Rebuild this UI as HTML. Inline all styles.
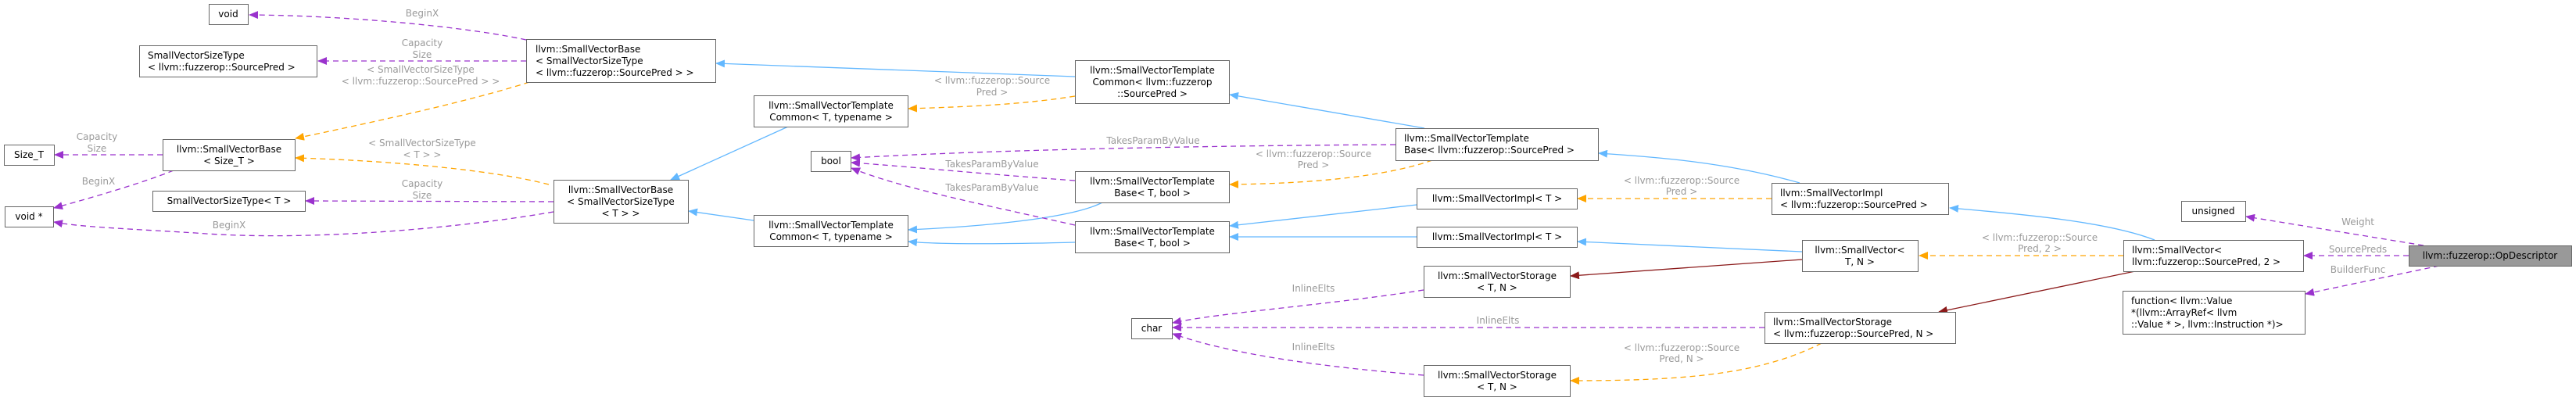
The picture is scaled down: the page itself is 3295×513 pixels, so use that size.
<!DOCTYPE html>
<html><head><meta charset="utf-8"><style>
html,body{margin:0;padding:0;background:#fff;}
svg{display:block;}
text{font-family:"DejaVu Sans","Liberation Sans",sans-serif;font-size:12px;fill:#000;}
.l{fill:#9a9a9a;}
.b{fill:#fff;stroke:#666;stroke-width:1;}
.e{fill:none;stroke-width:1.3;}
.p{stroke:#9a32cd;stroke-dasharray:7,5;}
.o{stroke:#ffa500;stroke-dasharray:7,5;}
.u{stroke:#63b8ff;}
.r{stroke:#8b1a1a;}
</style></head><body>
<svg width="3295" height="513" viewBox="0 0 3295 513" xmlns="http://www.w3.org/2000/svg">
<defs>
<marker id="mp" markerWidth="12" markerHeight="10" refX="11" refY="5" orient="auto" markerUnits="userSpaceOnUse"><path d="M0,0 L12,5 L0,10 z" fill="#9a32cd"/></marker>
<marker id="mo" markerWidth="12" markerHeight="10" refX="11" refY="5" orient="auto" markerUnits="userSpaceOnUse"><path d="M0,0 L12,5 L0,10 z" fill="#ffa500"/></marker>
<marker id="mu" markerWidth="12" markerHeight="10" refX="11" refY="5" orient="auto" markerUnits="userSpaceOnUse"><path d="M0,0 L12,5 L0,10 z" fill="#63b8ff"/></marker>
<marker id="mr" markerWidth="12" markerHeight="10" refX="11" refY="5" orient="auto" markerUnits="userSpaceOnUse"><path d="M0,0 L12,5 L0,10 z" fill="#8b1a1a"/></marker>
</defs>

<!-- edges -->
<path class="e p" marker-end="url(#mp)" d="M673,51 C600,35 450,20 319,19"/>
<path class="e p" marker-end="url(#mp)" d="M673,78 L407,78"/>
<path class="e o" marker-end="url(#mo)" d="M677,105 C600,130 460,160 378,177"/>
<path class="e p" marker-end="url(#mp)" d="M208,198 L70,198"/>
<path class="e p" marker-end="url(#mp)" d="M222,218 C180,235 110,255 69,266"/>
<path class="e o" marker-end="url(#mo)" d="M702,236 C620,215 480,205 378,202"/>
<path class="e p" marker-end="url(#mp)" d="M708,258 L391,257"/>
<path class="e p" marker-end="url(#mp)" d="M708,271 C600,290 400,310 250,298 C150,292 100,290 69,284"/>
<path class="e u" marker-end="url(#mu)" d="M1375,98 L916,81"/>
<path class="e o" marker-end="url(#mo)" d="M1375,123 C1300,135 1220,137 1162,139"/>
<path class="e u" marker-end="url(#mu)" d="M1008,162 L858,230"/>
<path class="e u" marker-end="url(#mu)" d="M964,282 L881,270"/>
<path class="e u" marker-end="url(#mu)" d="M1410,259 C1370,280 1250,290 1162,294"/>
<path class="e u" marker-end="url(#mu)" d="M1375,310 C1300,312 1200,313 1162,309"/>
<path class="e p" marker-end="url(#mp)" d="M1375,231 C1250,222 1150,212 1089,208"/>
<path class="e p" marker-end="url(#mp)" d="M1375,288 C1250,260 1150,240 1089,215"/>
<path class="e p" marker-end="url(#mp)" d="M1785,185 C1600,186 1300,190 1089,202"/>
<path class="e o" marker-end="url(#mo)" d="M1832,205 C1760,230 1650,235 1573,236"/>
<path class="e u" marker-end="url(#mu)" d="M1822,164 L1573,121"/>
<path class="e u" marker-end="url(#mu)" d="M1812,262 L1573,289"/>
<path class="e u" marker-end="url(#mu)" d="M1812,303 L1573,303"/>
<path class="e u" marker-end="url(#mu)" d="M2302,234 C2200,205 2100,200 2045,196"/>
<path class="e o" marker-end="url(#mo)" d="M2266,254 L2018,254"/>
<path class="e u" marker-end="url(#mu)" d="M2305,322 L2018,309"/>
<path class="e r" marker-end="url(#mr)" d="M2305,332 L2009,353"/>
<path class="e p" marker-end="url(#mp)" d="M1821,371 C1700,390 1560,400 1500,413"/>
<path class="e p" marker-end="url(#mp)" d="M2257,419 L1500,419"/>
<path class="e p" marker-end="url(#mp)" d="M1821,480 C1700,470 1580,455 1500,427"/>
<path class="e o" marker-end="url(#mo)" d="M2330,439 C2250,480 2150,487 2009,487"/>
<path class="e u" marker-end="url(#mu)" d="M2756,307 C2700,285 2600,275 2494,266"/>
<path class="e o" marker-end="url(#mo)" d="M2716,327 L2455,327"/>
<path class="e r" marker-end="url(#mr)" d="M2731,347 L2480,399"/>
<path class="e p" marker-end="url(#mp)" d="M3100,314 L2873,277"/>
<path class="e p" marker-end="url(#mp)" d="M3081,327 L2947,327"/>
<path class="e p" marker-end="url(#mp)" d="M3120,340 L2949,376"/>

<!-- edge labels -->
<g class="l" text-anchor="middle">
<text class="l" x="540" y="21">BeginX</text>
<text class="l" x="540" y="59">Capacity</text><text class="l" x="540" y="74">Size</text>
<text class="l" x="538" y="93">&lt; SmallVectorSizeType</text><text class="l" x="538" y="108">&lt; llvm::fuzzerop::SourcePred &gt; &gt;</text>
<text class="l" x="124" y="179">Capacity</text><text class="l" x="124" y="194">Size</text>
<text class="l" x="540" y="187">&lt; SmallVectorSizeType</text><text class="l" x="540" y="202">&lt; T &gt; &gt;</text>
<text class="l" x="126" y="236">BeginX</text>
<text class="l" x="540" y="239">Capacity</text><text class="l" x="540" y="254">Size</text>
<text class="l" x="293" y="292">BeginX</text>
<text class="l" x="1269" y="107">&lt; llvm::fuzzerop::Source</text><text class="l" x="1269" y="122">Pred &gt;</text>
<text class="l" x="1475" y="184">TakesParamByValue</text>
<text class="l" x="1269" y="214">TakesParamByValue</text>
<text class="l" x="1269" y="244">TakesParamByValue</text>
<text class="l" x="1680" y="201">&lt; llvm::fuzzerop::Source</text><text class="l" x="1680" y="215">Pred &gt;</text>
<text class="l" x="2151" y="235">&lt; llvm::fuzzerop::Source</text><text class="l" x="2151" y="249">Pred &gt;</text>
<text class="l" x="1680" y="373">InlineElts</text>
<text class="l" x="1916" y="414">InlineElts</text>
<text class="l" x="1680" y="448">InlineElts</text>
<text class="l" x="2151" y="449">&lt; llvm::fuzzerop::Source</text><text class="l" x="2151" y="463">Pred, N &gt;</text>
<text class="l" x="2609" y="308">&lt; llvm::fuzzerop::Source</text><text class="l" x="2609" y="322">Pred, 2 &gt;</text>
<text class="l" x="3016" y="288">Weight</text>
<text class="l" x="3016" y="323">SourcePreds</text>
<text class="l" x="3016" y="349">BuilderFunc</text>
</g>

<!-- nodes -->
<rect class="b" x="267.5" y="5.5" width="50" height="26"/><text x="292" y="22" text-anchor="middle">void</text>
<rect class="b" x="178.5" y="58.5" width="227" height="40"/><text x="189" y="75">SmallVectorSizeType</text><text x="189" y="90">&lt; llvm::fuzzerop::SourcePred &gt;</text>
<rect class="b" x="673.5" y="50.5" width="242" height="55"/><text x="685" y="67">llvm::SmallVectorBase</text><text x="685" y="82">&lt; SmallVectorSizeType</text><text x="685" y="97">&lt; llvm::fuzzerop::SourcePred &gt; &gt;</text>
<rect class="b" x="5.5" y="185.5" width="64" height="26"/><text x="37" y="202" text-anchor="middle">Size_T</text>
<rect class="b" x="208.5" y="178.5" width="169" height="40"/><text x="293" y="195" text-anchor="middle">llvm::SmallVectorBase</text><text x="293" y="210" text-anchor="middle">&lt; Size_T &gt;</text>
<rect class="b" x="195.5" y="244.5" width="195" height="26"/><text x="293" y="261" text-anchor="middle">SmallVectorSizeType&lt; T &gt;</text>
<rect class="b" x="6.5" y="264.5" width="62" height="26"/><text x="37" y="281" text-anchor="middle">void *</text>
<rect class="b" x="708.5" y="230.5" width="172" height="55"/><text x="794" y="247" text-anchor="middle">llvm::SmallVectorBase</text><text x="794" y="262" text-anchor="middle">&lt; SmallVectorSizeType</text><text x="794" y="277" text-anchor="middle">&lt; T &gt; &gt;</text>
<rect class="b" x="1375.5" y="77.5" width="197" height="55"/><text x="1474" y="94" text-anchor="middle">llvm::SmallVectorTemplate</text><text x="1474" y="109" text-anchor="middle">Common&lt; llvm::fuzzerop</text><text x="1474" y="124" text-anchor="middle">::SourcePred &gt;</text>
<rect class="b" x="964.5" y="122.5" width="197" height="40"/><text x="1063" y="139" text-anchor="middle">llvm::SmallVectorTemplate</text><text x="1063" y="154" text-anchor="middle">Common&lt; T, typename &gt;</text>
<rect class="b" x="1037.5" y="193.5" width="51" height="26"/><text x="1063" y="210" text-anchor="middle">bool</text>
<rect class="b" x="1375.5" y="219.5" width="197" height="40"/><text x="1474" y="236" text-anchor="middle">llvm::SmallVectorTemplate</text><text x="1474" y="251" text-anchor="middle">Base&lt; T, bool &gt;</text>
<rect class="b" x="964.5" y="275.5" width="197" height="40"/><text x="1063" y="292" text-anchor="middle">llvm::SmallVectorTemplate</text><text x="1063" y="307" text-anchor="middle">Common&lt; T, typename &gt;</text>
<rect class="b" x="1375.5" y="283.5" width="197" height="40"/><text x="1474" y="300" text-anchor="middle">llvm::SmallVectorTemplate</text><text x="1474" y="315" text-anchor="middle">Base&lt; T, bool &gt;</text>
<rect class="b" x="1447.5" y="407.5" width="52" height="26"/><text x="1473" y="424" text-anchor="middle">char</text>
<rect class="b" x="1785.5" y="164.5" width="259" height="41"/><text x="1796" y="181">llvm::SmallVectorTemplate</text><text x="1796" y="196">Base&lt; llvm::fuzzerop::SourcePred &gt;</text>
<rect class="b" x="1812.5" y="241.5" width="205" height="26"/><text x="1915" y="258" text-anchor="middle">llvm::SmallVectorImpl&lt; T &gt;</text>
<rect class="b" x="1812.5" y="290.5" width="205" height="26"/><text x="1915" y="307" text-anchor="middle">llvm::SmallVectorImpl&lt; T &gt;</text>
<rect class="b" x="1821.5" y="340.5" width="187" height="40"/><text x="1915" y="357" text-anchor="middle">llvm::SmallVectorStorage</text><text x="1915" y="372" text-anchor="middle">&lt; T, N &gt;</text>
<rect class="b" x="1821.5" y="467.5" width="187" height="40"/><text x="1915" y="484" text-anchor="middle">llvm::SmallVectorStorage</text><text x="1915" y="499" text-anchor="middle">&lt; T, N &gt;</text>
<rect class="b" x="2266.5" y="234.5" width="226" height="40"/><text x="2277" y="251">llvm::SmallVectorImpl</text><text x="2277" y="266">&lt; llvm::fuzzerop::SourcePred &gt;</text>
<rect class="b" x="2305.5" y="307.5" width="148" height="40"/><text x="2379" y="324" text-anchor="middle">llvm::SmallVector&lt;</text><text x="2379" y="339" text-anchor="middle">T, N &gt;</text>
<rect class="b" x="2257.5" y="399.5" width="244" height="40"/><text x="2268" y="416">llvm::SmallVectorStorage</text><text x="2268" y="431">&lt; llvm::fuzzerop::SourcePred, N &gt;</text>
<rect class="b" x="2790.5" y="257.5" width="82" height="26"/><text x="2831" y="274" text-anchor="middle">unsigned</text>
<rect class="b" x="2716.5" y="307.5" width="230" height="40"/><text x="2727" y="324">llvm::SmallVector&lt;</text><text x="2727" y="339"> llvm::fuzzerop::SourcePred, 2 &gt;</text>
<rect class="b" x="2715.5" y="372.5" width="233" height="55"/><text x="2726" y="389">function&lt; llvm::Value</text><text x="2726" y="404"> *(llvm::ArrayRef&lt; llvm</text><text x="2726" y="419">::Value * &gt;, llvm::Instruction *)&gt;</text>
<rect x="3081.5" y="314.5" width="208" height="26" fill="#999" stroke="#666"/><text x="3185" y="331" text-anchor="middle">llvm::fuzzerop::OpDescriptor</text>
</svg>
</body></html>
